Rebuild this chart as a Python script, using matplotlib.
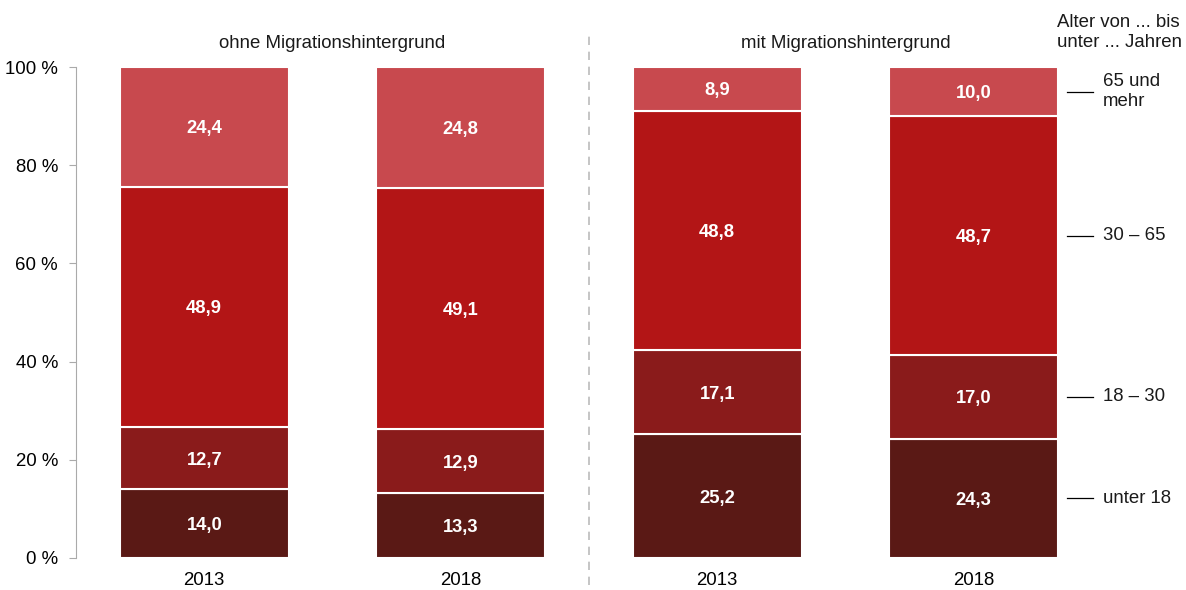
import matplotlib
matplotlib.use("Agg")
import matplotlib.pyplot as plt
import numpy as np

plt.rcParams['font.family'] = ['Liberation Sans', 'DejaVu Sans']

years = ["2013", "2018", "2013", "2018"]
groups = ["ohne Migrationshintergrund", "mit Migrationshintergrund"]
age_labels = ["unter 18", "18 – 30", "30 – 65", "65 und\nmehr"]
under18 = [14.0, 13.3, 25.2, 24.3]
age18_30 = [12.7, 12.9, 17.1, 17.0]
age30_65 = [48.9, 49.1, 48.8, 48.7]
age65plus = [24.4, 24.8, 8.9, 10.0]
colors = ["#5A1915", "#8A1B1B", "#B31516", "#C8494E"]

series = [under18, age18_30, age30_65, age65plus]
FS = 13.4

fig = plt.figure(figsize=(11.86, 5.90), dpi=100)
ax = fig.add_axes([76/1186, 32/590, 1026/1186, 491/590])

x = np.arange(len(years))
bottom = np.zeros(len(years))
for vals, col in zip(series, colors):
    v = np.array(vals)
    ax.bar(x, v, bottom=bottom, width=0.658, color=col, edgecolor="white", linewidth=1.5)
    for xi, b, vi in zip(x, bottom, v):
        ax.text(xi, b + vi/2, f"{vi:.1f}".replace(".", ","), ha="center", va="center_baseline",
                color="white", fontweight="bold", fontsize=13.2)
    bottom += v

# legend lines at midpoints of last bar
cum = 0
last = len(years) - 1
for vals, lab in zip(series, age_labels):
    mid = cum + vals[last]/2
    cum += vals[last]
    ax.plot([3.363, 3.465], [mid, mid], color="black", lw=0.9, clip_on=False)
    ax.text(3.505, mid, lab, ha="left", va="center", fontsize=FS, color="#1a1a1a",
            linespacing=1.25)

ax.text(3.325, 107.0, "Alter von ... bis\nunter ... Jahren", ha="left", va="center",
        fontsize=FS, color="#1a1a1a", linespacing=1.25, clip_on=False)

ax.set_xlim(-0.5, 3.5)
ax.set_ylim(0, 100)
ax.set_xticks(x)
ax.set_xticklabels(years, fontsize=FS)
ax.set_yticks(np.arange(0, 101, 20))
ax.set_yticklabels([f"{t} %" for t in range(0, 101, 20)], fontsize=FS)
ax.tick_params(axis="x", length=0, pad=10)
ax.tick_params(axis="y", length=5, color="#aaaaaa", pad=8)
for s in ["top", "right", "bottom"]:
    ax.spines[s].set_visible(False)
ax.spines["left"].set_color("#aaaaaa")

for gi, g in enumerate(groups):
    ax.text(gi*2 + 0.5, 104.7, g, ha="center", va="center", fontsize=FS, color="#1a1a1a",
            clip_on=False)

ax.plot([1.5, 1.5], [-5.5, 107], color="#bbbbbb", lw=1.2, ls=(0, (5, 4)), clip_on=False)

fig.savefig("out.png", dpi=100)
